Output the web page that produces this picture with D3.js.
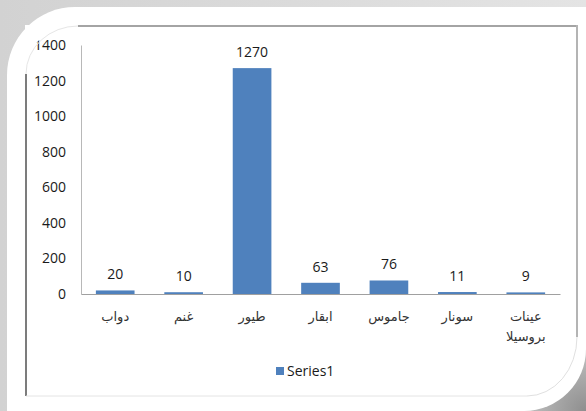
<!DOCTYPE html>
<html>
<head>
<meta charset="utf-8">
<script src="https://cdn.jsdelivr.net/npm/d3@7"></script>
<style>
  body { margin: 0; background: #fff; }
  svg { display: block; }
  .tick text { font-family: "Open Sans", "Liberation Sans", sans-serif; font-size: 14px; fill: #1a1a1a; }
</style>
</head>
<body>
<script>
// chart values
var categories = ["دواب", "غنم", "طيور", "ابقار", "جاموس", "سونار", "عينات بروسيلا"];
var values = [20, 10, 1270, 63, 76, 11, 9];
var yTicks = [0, 200, 400, 600, 800, 1000, 1200, 1400];
var seriesName = "Series1";

var W = 586, H = 411;
var margin = {'left': 81, 'right': 26, 'top': 45, 'bottom': 117};
var width = W - margin.left - margin.right;
var height = H - margin.top - margin.bottom;

var svg = d3.select("body")
    .append("svg")
        .attr("width", W)
        .attr("height", H);

// picture frame: grey shadow + white shape with rounded corners
var defs = svg.append("defs");
var lg = defs.append("linearGradient").attr("id", "shade")
    .attr("x1", 0).attr("y1", 0).attr("x2", 1).attr("y2", 0);
lg.append("stop").attr("offset", "0%").attr("stop-color", "#d2d2d2");
lg.append("stop").attr("offset", "100%").attr("stop-color", "#e4e4e4");
var rg = defs.append("radialGradient").attr("id", "corner")
    .attr("gradientUnits", "userSpaceOnUse")
    .attr("cx", W).attr("cy", H).attr("r", 95);
rg.append("stop").attr("offset", "0%").attr("stop-color", "#8e8e8e");
rg.append("stop").attr("offset", "100%").attr("stop-color", "#dcdcdc");

svg.append("rect").attr("width", W).attr("height", H).attr("fill", "url(#shade)");
svg.append("rect").attr("x", W - 100).attr("y", H - 100)
    .attr("width", 100).attr("height", 100).attr("fill", "url(#corner)");

var R1 = 68, R2 = 62, o = 7;
svg.append("path")
    .attr("d", "M" + o + "," + (o + R1) +
        " A" + R1 + "," + R1 + " 0 0 1 " + (o + R1) + "," + o +
        " L" + W + "," + o +
        " L" + W + "," + (H - R2) +
        " A" + R2 + "," + R2 + " 0 0 1 " + (W - R2) + "," + H +
        " L" + o + "," + H + " Z")
    .attr("fill", "#fff");

var g = svg.append("g")
    .attr("transform", "translate(" + margin.left + ", " + margin.top + ")");

var x = d3.scaleBand()
    .domain(categories)
    .range([0, width])
    .paddingInner(0.435)
    .paddingOuter(0.2175);

var y = d3.scaleLinear()
    .domain([0, 1400])
    .range([height, 0]);

// y axis
var yAxisGroup = g.append("g")
    .attr("class", "yAxis")
    .call(d3.axisLeft(y).tickValues(yTicks).tickSize(0).tickPadding(15).tickFormat(d3.format("d")));
yAxisGroup.select(".domain").attr("stroke", "#b8b8b8");

// bars
g.selectAll("rect.bar")
    .data(values)
    .enter()
    .append("rect")
        .attr("class", "bar")
        .attr("x", (d, i) => x(categories[i]))
        .attr("y", d => y(d))
        .attr("width", x.bandwidth())
        .attr("height", d => height - y(d))
        .attr("fill", "#4f81bd");

// x axis line drawn after bars
var xAxisGroup = g.append("g")
    .attr("class", "xAxis")
    .attr("transform", "translate(0," + height + ")")
    .call(d3.axisBottom(x).tickSize(0).tickFormat(""));
xAxisGroup.select(".domain").attr("stroke", "#a0a0a0");

// value labels
g.selectAll("text.val")
    .data(values)
    .enter()
    .append("text")
        .attr("class", "val")
        .attr("x", (d, i) => x(categories[i]) + x.bandwidth() / 2)
        .attr("y", d => y(d) - 11)
        .attr("text-anchor", "middle")
        .attr("font-family", "'Open Sans', 'Liberation Sans', sans-serif")
        .attr("font-size", "14px")
        .attr("fill", "#1a1a1a")
        .text(d => d);

// category labels, wrapped on spaces
var cat = g.selectAll("text.cat")
    .data(categories)
    .enter()
    .append("text")
        .attr("class", "cat")
        .attr("text-anchor", "middle")
        .attr("font-family", "'DejaVu Sans', sans-serif")
        .attr("font-size", "13px")
        .attr("fill", "#333")
        .attr("transform", d => "translate(" + (x(d) + x.bandwidth() / 2) + "," + (height + 27) + ")");

cat.each(function(d) {
    var words = d.split(" ");
    var t = d3.select(this);
    words.forEach(function(w, k) {
        t.append("tspan")
            .attr("x", 0)
            .attr("dy", k == 0 ? 0 : 20)
            .text(w);
    });
});

// legend
var legend = svg.append("g").attr("class", "legend");
legend.append("rect")
    .attr("x", 276).attr("y", 367)
    .attr("width", 8).attr("height", 8)
    .attr("fill", "#4f81bd");
legend.append("text")
    .attr("x", 287).attr("y", 371)
    .attr("dy", "0.35em")
    .attr("font-family", "'Open Sans', 'Liberation Sans', sans-serif")
    .attr("font-size", "14px")
    .attr("fill", "#1a1a1a")
    .text(seriesName);

// chart border, with rounded frame corners covering the chart
var bx0 = 26, by0 = 26, bx1 = 577, by1 = 396;
var frame = svg.append("g").attr("fill", "none");
frame.append("path")
    .attr("d", "M" + (bx0 - 1) + "," + (by0 - 1) + " L78," + (by0 - 1) +
        " A52,48 0 0 0 " + (bx0 - 1) + ",74 Z")
    .attr("fill", "#fff");
frame.append("line").attr("x1", 78).attr("y1", by0).attr("x2", bx1).attr("y2", by0)
    .attr("stroke", "#a4a4a4").attr("stroke-width", 2);
frame.append("line").attr("x1", bx1).attr("y1", by0 - 1).attr("x2", bx1).attr("y2", 337)
    .attr("stroke", "#b4b4b4").attr("stroke-width", 2);
frame.append("line").attr("x1", bx0).attr("y1", 74).attr("x2", bx0).attr("y2", by1)
    .attr("stroke", "#7c7c7c").attr("stroke-width", 2);
frame.append("line").attr("x1", bx0).attr("y1", by1).attr("x2", 527).attr("y2", by1)
    .attr("stroke", "#e4e4e4").attr("stroke-width", 1);
frame.append("path").attr("d", "M" + bx0 + ",74 A52,48 0 0 1 78," + by0)
    .attr("stroke", "#e6e6e6");
frame.append("path").attr("d", "M" + bx1 + ",337 A50,59 0 0 1 527," + by1)
    .attr("stroke", "#e0e0e0");
</script>
</body>
</html>
